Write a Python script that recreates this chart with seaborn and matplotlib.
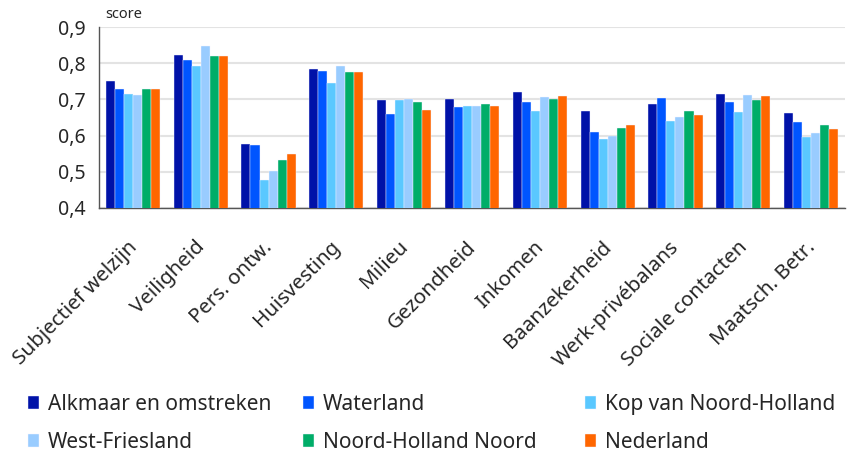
import pandas as pd
import matplotlib.pyplot as plt
import matplotlib.transforms as mtransforms
import seaborn as sns
from matplotlib.ticker import FuncFormatter, FixedLocator

categories = ['Subjectief welzijn', 'Veiligheid', 'Pers. ontw.', 'Huisvesting', 'Milieu',
              'Gezondheid', 'Inkomen', 'Baanzekerheid', 'Werk-privébalans',
              'Sociale contacten', 'Maatsch. Betr.']
regions = ['Alkmaar en omstreken', 'Waterland', 'Kop van Noord-Holland',
           'West-Friesland', 'Noord-Holland Noord', 'Nederland']

alkmaar = [0.751, 0.824, 0.577, 0.785, 0.699, 0.701, 0.721, 0.668, 0.688, 0.714, 0.662]
waterland = [0.729, 0.810, 0.573, 0.779, 0.660, 0.679, 0.693, 0.610, 0.704, 0.693, 0.638]
kop = [0.714, 0.793, 0.477, 0.746, 0.698, 0.682, 0.669, 0.591, 0.641, 0.664, 0.596]
west_friesland = [0.713, 0.848, 0.503, 0.791, 0.701, 0.682, 0.707, 0.598, 0.652, 0.711, 0.608]
nhn = [0.729, 0.821, 0.533, 0.775, 0.693, 0.688, 0.701, 0.620, 0.668, 0.698, 0.628]
nederland = [0.728, 0.821, 0.549, 0.775, 0.671, 0.682, 0.710, 0.628, 0.657, 0.709, 0.619]

colors = ['#0012A8', '#0055FF', '#5AC8FF', '#99CCFF', '#00AD68', '#FF6600']

series = [alkmaar, waterland, kop, west_friesland, nhn, nederland]
rows = []
for reg, vals in zip(regions, series):
    for cat, v in zip(categories, vals):
        rows.append({'categorie': cat, 'regio': reg, 'score': v})
df = pd.DataFrame(rows)

sns.set_style('white')
plt.rcParams['font.family'] = ['Noto Sans', 'DejaVu Sans']

fig = plt.figure(figsize=(8.5, 4.55), dpi=100)
ax = fig.add_axes([99 / 850, 1 - 208 / 455, 746 / 850, 181 / 455])

sns.barplot(data=df, x='categorie', y='score', hue='regio', order=categories,
            hue_order=regions, palette=colors, saturation=1, width=0.8, gap=0,
            edgecolor='#f4f4ff', linewidth=0.3, ax=ax, zorder=3)

ax.set_ylim(0.4, 0.9)
ax.set_xlim(-0.5, len(categories) - 0.5)
ax.set_yticks([0.4, 0.5, 0.6, 0.7, 0.8, 0.9])
ax.yaxis.set_major_formatter(FuncFormatter(lambda v, p: f'{v:.1f}'.replace('.', ',')))
ax.grid(axis='y', color='#e3e3e3', linewidth=1.5, zorder=0)
ax.set_axisbelow(True)

ax.set_xticks(range(len(categories)))
ax.set_xticklabels(categories, rotation=45, ha='right', rotation_mode='anchor', fontsize=14.8)
ax.tick_params(axis='x', which='major', length=0, pad=21)
shift = mtransforms.ScaledTranslation(-6 / 100, 0, fig.dpi_scale_trans)
for lbl in ax.get_xticklabels():
    lbl.set_transform(lbl.get_transform() + shift)
ax.xaxis.set_minor_locator(FixedLocator([i - 0.5 for i in range(len(categories) + 1)]))
ax.tick_params(axis='x', which='minor', length=6, width=1, color='#333333', direction='out')
ax.tick_params(axis='y', length=6, width=1, color='#333333', direction='out', labelsize=14)

for side in ['top', 'right']:
    ax.spines[side].set_visible(False)
for side in ['left', 'bottom']:
    ax.spines[side].set_color('#555555')
    ax.spines[side].set_linewidth(1)

ax.set_xlabel('')
ax.set_ylabel('')
fig.text(105 / 850, 1 - 14 / 455, 'score', fontsize=10.5, va='center', ha='left')

handles, labels = ax.get_legend_handles_labels()
ax.get_legend().remove()
col_x = [28, 303, 585]
for c in range(3):
    idx = [c, c + 3]
    leg = fig.legend([handles[i] for i in idx], [labels[i] for i in idx],
                     loc='upper left', bbox_to_anchor=(col_x[c] / 850, 1 - 394 / 455),
                     frameon=False, fontsize=15, handlelength=0.55, handleheight=0.55,
                     handletextpad=0.4, labelspacing=0.8, borderaxespad=0, borderpad=0)

fig.savefig('out.png', dpi=100)
